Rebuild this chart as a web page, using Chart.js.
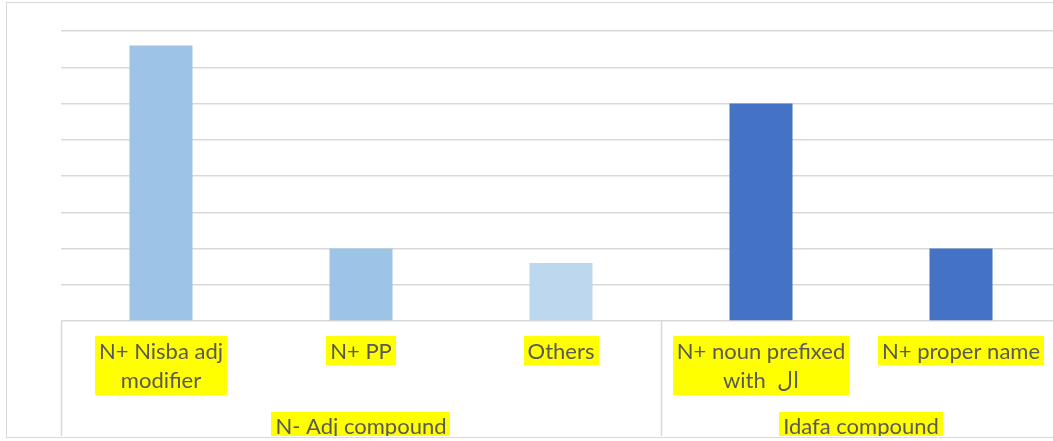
<!DOCTYPE html>
<html>
<head>
<meta charset="utf-8">
<script src="https://cdn.jsdelivr.net/npm/chart.js@4.4.0/dist/chart.umd.min.js"></script>
<style>
    html, body { margin: 0; padding: 0; overflow: hidden; background: #fff; width: 1053px; height: 441px; }
    #wrap { position: absolute; left: 0; top: 0; width: 1070px; height: 441px; }
    #frame { position: absolute; left: 6px; top: 2px; width: 1100px; height: 434px; border: 1px solid #d9d9d9; pointer-events: none; }
</style>
</head>
<body>
<div id="wrap"><canvas id="chart"></canvas></div>
<div id="frame"></div>
<script>
// Chart data
var categories = [
    ['N+ Nisba adj', 'modifier'],
    ['N+ PP'],
    ['Others'],
    ['N+ noun prefixed', 'with  ال'],
    ['N+ proper name']
];
var groups = ['N- Adj compound', 'Idafa compound'];
var groupIndexes = [[0, 1, 2], [3, 4]];
var values = [38, 10, 8, 30, 10];
var yTicks = [0, 5, 10, 15, 20, 25, 30, 35, 40];

var barColors = ['#9dc3e6', '#9dc3e6', '#bdd7ee', '#4472c4', '#4472c4'];

var LABEL_FONT = '22px Lato, "DejaVu Sans", sans-serif';
var LINE_H = 29;

function drawHighlighted(ctx, lines, cx, top, baseOffset) {
    var w = 0;
    lines.forEach(function(l) { w = Math.max(w, ctx.measureText(l).width); });
    w += 8;
    var h = lines.length * LINE_H + (lines.length > 1 ? 1 : 0);
    ctx.fillStyle = '#ffff00';
    ctx.fillRect(Math.round(cx - w / 2), top, Math.round(w), h);
    ctx.fillStyle = '#595959';
    lines.forEach(function(l, k) {
        ctx.fillText(l, cx, top + baseOffset + k * LINE_H);
    });
}

// Draws category labels, group labels and the separators below the axis
var axisLabelPlugin = {
    id: 'axisLabels',
    afterDraw: function(chart) {
        var ctx = chart.ctx;
        var xs = chart.scales.x;
        var area = chart.chartArea;
        var step = xs.getPixelForValue(1) - xs.getPixelForValue(0);

        ctx.save();
        ctx.beginPath();
        ctx.rect(0, 0, chart.width, 436);
        ctx.clip();

        // separators between groups
        ctx.strokeStyle = '#d9d9d9';
        ctx.lineWidth = 1.5;
        var seps = [area.left];
        groupIndexes.forEach(function(idx) {
            seps.push(xs.getPixelForValue(idx[idx.length - 1]) + step / 2);
        });
        seps.forEach(function(x) {
            var px = Math.round(x) + 0.5;
            ctx.beginPath();
            ctx.moveTo(px, area.bottom);
            ctx.lineTo(px, chart.height);
            ctx.stroke();
        });

        ctx.font = LABEL_FONT;
        ctx.textAlign = 'center';
        ctx.textBaseline = 'alphabetic';

        categories.forEach(function(lines, i) {
            drawHighlighted(ctx, lines, xs.getPixelForValue(i), area.bottom + 15, 23);
        });

        groups.forEach(function(name, g) {
            var idx = groupIndexes[g];
            var cx = (xs.getPixelForValue(idx[0]) + xs.getPixelForValue(idx[idx.length - 1])) / 2;
            drawHighlighted(ctx, [name], cx, area.bottom + 91, 22);
        });
        ctx.restore();
    }
};

var ctx = document.getElementById('chart').getContext('2d');
var chart = new Chart(ctx, {
    type: 'bar',
    data: {
        labels: categories.map(function(c) { return c.join(' '); }),
        datasets: [{
            data: values,
            backgroundColor: barColors,
            borderWidth: 0,
            barPercentage: 0.315,
            categoryPercentage: 1
        }]
    },
    options: {
        responsive: true,
        maintainAspectRatio: false,
        animation: false,
        layout: {
            padding: { left: 61, right: 9, top: 31, bottom: 120 }
        },
        plugins: {
            legend: { display: false },
            tooltip: { enabled: false }
        },
        scales: {
            x: {
                display: false
            },
            y: {
                min: 0,
                max: 40,
                afterBuildTicks: function(scale) {
                    scale.ticks = yTicks.map(function(v) { return { value: v }; });
                },
                ticks: { display: false },
                border: { display: false },
                grid: {
                    color: '#d9d9d9',
                    lineWidth: 1.5,
                    drawTicks: false
                }
            }
        }
    },
    plugins: [axisLabelPlugin]
});
</script>
</body>
</html>
